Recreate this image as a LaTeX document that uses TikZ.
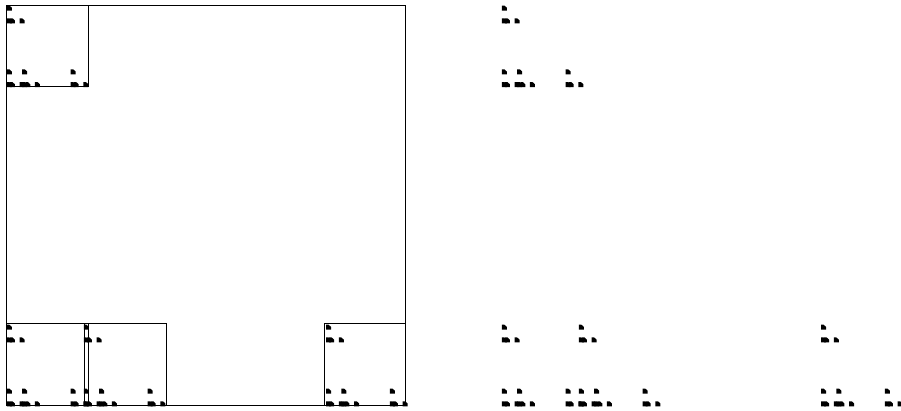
\documentclass[tikz,border=0pt]{standalone}
\begin{document}
\begin{tikzpicture}[x=1pt,y=-1pt]
\tikzset{
  box/.style={draw=black,line width=0.9pt},
  glyph/.style={fill=black}
}
\useasboundingbox (0,0) rectangle (901,410);
\def\S{399}
% fractal dots (left and right panels)
\foreach \ox in {6.5,501.5} {
  \foreach \ax/\ay in {0/0,0/0.8,0.193/0.8,0.8/0.8} {
    \foreach \bx/\by in {0/0,0/0.8,0.193/0.8,0.8/0.8} {
      \foreach \cx/\cy in {0/0,0/0.8,0.193/0.8,0.8/0.8} {
        \pgfmathsetmacro\px{\ox+0.3+\S*(\ax+0.2*\bx+0.04*\cx)}
        \pgfmathsetmacro\py{5.5+\S*(\ay+0.2*\by+0.04*\cy)}
        \fill[glyph] (\px,\py) -- ++(2.6,0) -- ++(2.4,2.2) -- ++(0,2.8) -- ++(-5,0) -- cycle;
      }
    }
  }
}
% boxes of the left panel
\draw[box] (6.5,5.5) rectangle (405.5,405);
\draw[box] (6.5,5.5) rectangle (88,86.5);
\draw[box] (6.5,323) rectangle (84,405);
\draw[box] (84,323) rectangle (88,405);
\draw[box] (88,323) rectangle (166,405);
\draw[box] (324,323) rectangle (405.5,405);
\end{tikzpicture}
\end{document}
